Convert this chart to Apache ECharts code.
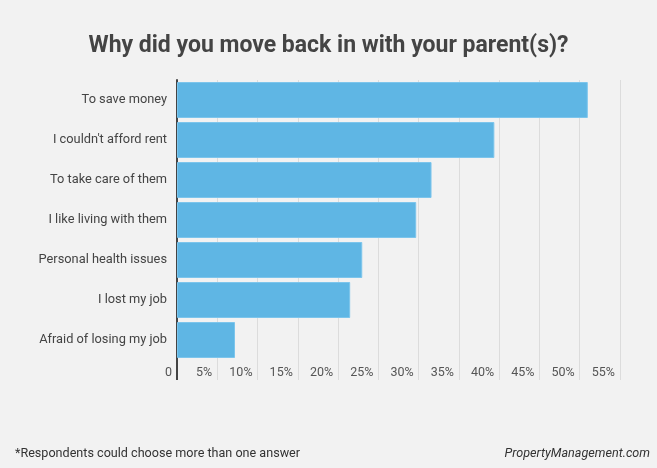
<!DOCTYPE html>
<html>
<head>
<meta charset="utf-8">
<script src="https://cdn.jsdelivr.net/npm/echarts@6/dist/echarts.min.js"></script>
<style>
  html, body { margin: 0; padding: 0; background: #f2f2f2; }
  #chart { width: 657px; height: 468px; }
</style>
</head>
<body>
<div id="chart"></div>
<script>
// 数据
const reasons = [
  'To save money',
  "I couldn't afford rent",
  'To take care of them',
  'I like living with them',
  'Personal health issues',
  'I lost my job',
  'Afraid of losing my job'
]
const shares = [51, 39.4, 31.6, 29.7, 23, 21.5, 7.2]
const xMax = 55
const xStep = 5

const gridLeft = 177
const gridTop = 80
const gridBottom = 108 // 468 - 360
const extend = 20 // gridlines run below the bars

const myChart = echarts.init(document.getElementById('chart'))
myChart.setOption({
  backgroundColor: '#f2f2f2',
  textStyle: { fontFamily: 'Roboto' },
  title: {
    text: 'Why did you move back in with your parent(s)?',
    left: 'center',
    top: 30,
    textStyle: { color: '#444', fontSize: 23, fontWeight: 'bold', fontFamily: 'Roboto' }
  },
  grid: { left: gridLeft, right: 37, top: gridTop, bottom: gridBottom },
  xAxis: {
    type: 'value',
    min: 0,
    max: xMax,
    interval: xStep,
    axisLine: { show: false },
    axisTick: {
      show: true,
      length: extend,
      lineStyle: { color: '#dcdcdc', width: 1 }
    },
    splitLine: { show: true, lineStyle: { color: '#dcdcdc', width: 1 } },
    axisLabel: {
      color: '#555',
      fontSize: 12.5,
      margin: 6,
      align: 'right',
      padding: [0, 5, 0, 0],
      formatter: v => (v === 0 ? '0' : v + '%')
    }
  },
  yAxis: {
    type: 'category',
    inverse: true,
    data: reasons,
    axisLine: { show: true, lineStyle: { color: '#444', width: 2 } },
    axisTick: { show: false },
    axisLabel: { color: '#444', fontSize: 12.8, margin: 10 }
  },
  series: [{
    type: 'bar',
    data: shares,
    barCategoryGap: '10%',
    itemStyle: { color: '#5fb6e4', borderColor: '#7cc5ec', borderWidth: 1 },
    silent: true
  }],
  graphic: [{
    // 纵轴线向下延伸
    type: 'line',
    shape: { x1: gridLeft, y1: 468 - gridBottom - 1, x2: gridLeft, y2: 468 - gridBottom + extend },
    style: { stroke: '#444', lineWidth: 2 },
    z: 10
  }, {
    type: 'text',
    left: 15,
    top: 447,
    style: { text: '*Respondents could choose more than one answer', fill: '#333', font: '12.6px Roboto' }
  }, {
    type: 'text',
    right: 7,
    top: 447,
    style: { text: 'PropertyManagement.com', fill: '#333', font: 'italic 12.6px Roboto' }
  }]
})
</script>
</body>
</html>
